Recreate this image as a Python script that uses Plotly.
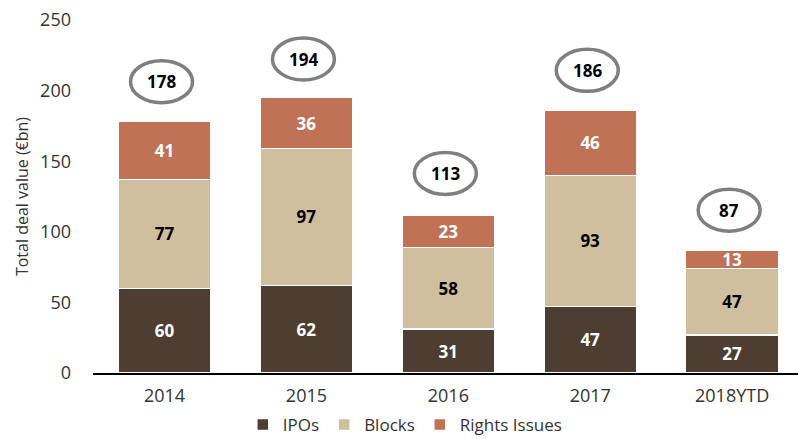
import plotly.graph_objects as go

years = ["2014", "2015", "2016", "2017", "2018YTD"]
ipos = [60, 62, 31, 47, 27]
blocks = [77, 97, 58, 93, 47]
rights = [41, 36, 23, 46, 13]
totals = [178, 194, 113, 186, 87]

FONT = "Open Sans"
C_IPO = "#4E3D31"
C_BLK = "#D0BF9E"
C_RGT = "#C07256"

fig = go.Figure()
for name, vals, col, tcol in [
    ("IPOs", ipos, C_IPO, "white"),
    ("Blocks", blocks, C_BLK, "black"),
    ("Rights Issues", rights, C_RGT, "white"),
]:
    fig.add_trace(go.Bar(
        x=years, y=vals, name=name,
        marker=dict(color=col, line=dict(color="white", width=1.5)),
        text=[str(v) for v in vals],
        textposition="inside", insidetextanchor="middle", textangle=0,
        textfont=dict(family=FONT, size=17, color=tcol, weight="bold"),
        hoverinfo="skip",
    ))

for i, tot in enumerate(totals):
    fig.add_shape(type="circle", xref="x", yref="y",
                  xsizemode="pixel", ysizemode="pixel",
                  xanchor=i, yanchor=tot,
                  x0=-34, x1=28, y0=19, y1=61,
                  line=dict(color="#7F7F7F", width=3.5),
                  fillcolor="rgba(0,0,0,0)")
    fig.add_annotation(x=i, y=tot, yshift=40, xshift=-3, text=str(tot), showarrow=False,
                       font=dict(family=FONT, size=17, color="black", weight="bold"))

fig.update_layout(
    width=798, height=439,
    margin=dict(l=93, r=0, t=20, b=66),
    barmode="stack", bargap=0.345,
    plot_bgcolor="white", paper_bgcolor="white",
    font=dict(family=FONT, size=17, color="#333333"),
    uniformtext=dict(minsize=17, mode="show"),
    showlegend=True,
    legend=dict(orientation="h", x=0.443, xanchor="center",
                yref="container", y=0.032, yanchor="middle",
                font=dict(size=17, color="#333333"), traceorder="normal",
                itemwidth=30, tracegroupgap=0),
)
fig.update_xaxes(range=[-0.504, 4.464], showline=True, linecolor="black", linewidth=2,
                 ticks="", ticklabelstandoff=5, tickfont=dict(size=18, color="#333333"),
                 showgrid=False, automargin=False)
fig.update_yaxes(range=[0, 250], tickvals=[0, 50, 100, 150, 200, 250], showgrid=False,
                 zeroline=False, showline=False, ticks="", ticklabelstandoff=21,
                 tickfont=dict(size=18, color="#333333"), automargin=False,
                 title=dict(text="Total deal value (€bn)", font=dict(size=16, color="#333333"),
                            standoff=7))
fig.write_html("out.html", config={"displayModeBar": False},
               post_script="document.body.style.margin='0px';")
